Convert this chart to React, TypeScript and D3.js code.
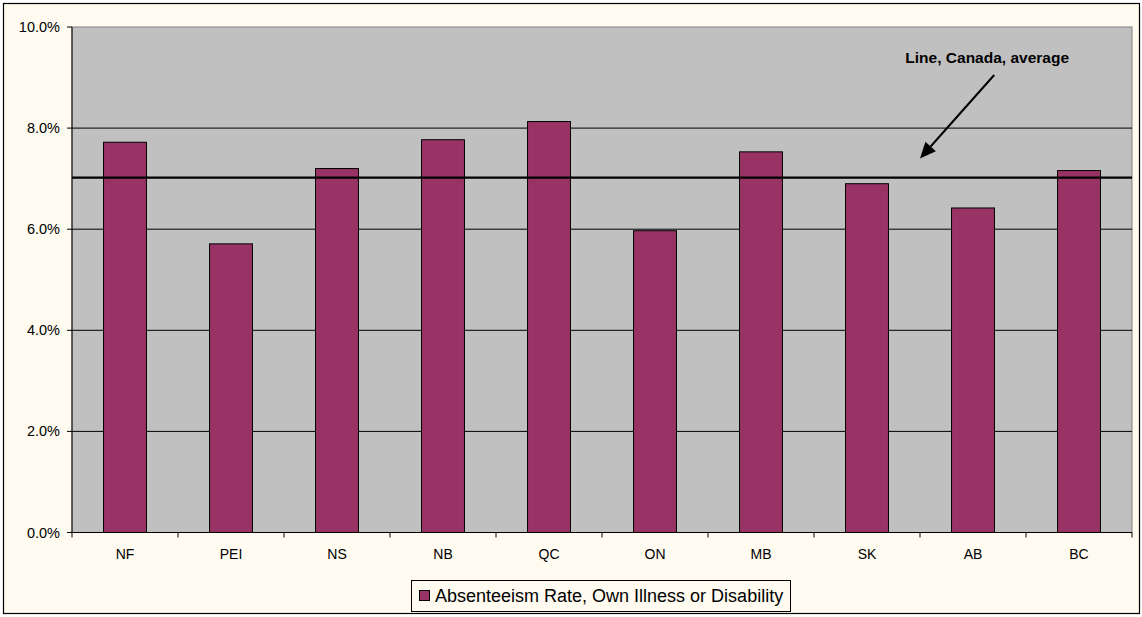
import React from "react";
import * as d3 from "d3";

const categories = ["NF", "PEI", "NS", "NB", "QC", "ON", "MB", "SK", "AB", "BC"];
const rates = [7.72, 5.71, 7.2, 7.77, 8.13, 5.97, 7.53, 6.9, 6.42, 7.16];
const canadaAverage = 7.02;
const yTicks = [0, 2, 4, 6, 8, 10];
const seriesName = "Absenteeism Rate, Own Illness or Disability";
const annotationText = "Line, Canada, average";

const W = 1142;
const H = 617;
const plot = { left: 72, right: 1132, top: 27, bottom: 532.5 };
const font = "Liberation Sans, Arial, sans-serif";

export default function App() {
  const x = d3
    .scaleBand<string>()
    .domain(categories)
    .range([plot.left, plot.right])
    .paddingInner(0.595)
    .paddingOuter(0.2975);
  const y = d3.scaleLinear().domain([0, 10]).range([plot.bottom, plot.top]);
  const step = x.step();

  const arrowStart: [number, number] = [plot.left + 8.7 * step, y(9.05)];
  const arrowEnd: [number, number] = [plot.left + 8 * step, y(7.4)];
  const ang = Math.atan2(arrowEnd[1] - arrowStart[1], arrowEnd[0] - arrowStart[0]);
  const headLen = 16;
  const headW = 7;
  const bx = arrowEnd[0] - headLen * Math.cos(ang);
  const by = arrowEnd[1] - headLen * Math.sin(ang);
  const px = -Math.sin(ang) * headW;
  const py = Math.cos(ang) * headW;

  return (
    <svg
      width={W}
      height={H}
      style={{ position: "fixed", left: 0, top: 0, display: "block" }}
      fontFamily={font}
    >
      <rect x={3.5} y={3.5} width={1136} height={610} fill="#fffbf0" stroke="#000" strokeWidth={1.2} />
      <rect x={plot.left} y={plot.top} width={plot.right - plot.left} height={plot.bottom - plot.top} fill="#c0c0c0" stroke="#808080" strokeWidth={1} />
      {yTicks.map((t) => (
        <g key={t}>
          {t > 0 && t < 10 && (
            <line x1={plot.left} x2={plot.right} y1={y(t)} y2={y(t)} stroke="#000" strokeWidth={1} />
          )}
          <line x1={plot.left - 5} x2={plot.left} y1={y(t)} y2={y(t)} stroke="#000" />
          <text x={plot.left - 12} y={y(t)} dy="0.35em" textAnchor="end" fontSize={14.5} fill="#000">
            {t.toFixed(1)}%
          </text>
        </g>
      ))}
      {rates.map((v, i) => (
        <rect
          key={categories[i]}
          x={x(categories[i])!}
          y={y(v)}
          width={x.bandwidth()}
          height={y(0) - y(v)}
          fill="#993366"
          stroke="#000"
          strokeWidth={1}
        />
      ))}
      <line x1={plot.left} x2={plot.right} y1={y(canadaAverage)} y2={y(canadaAverage)} stroke="#000" strokeWidth={2.2} />
      <line x1={plot.left} x2={plot.left} y1={plot.top} y2={plot.bottom} stroke="#000" strokeWidth={1} />
      <line x1={plot.left} x2={plot.right} y1={plot.bottom} y2={plot.bottom} stroke="#000" strokeWidth={1} />
      {d3.range(categories.length + 1).map((i) => (
        <line key={i} x1={plot.left + i * step} x2={plot.left + i * step} y1={plot.bottom} y2={plot.bottom + 5} stroke="#000" />
      ))}
      {categories.map((c) => (
        <text key={c} x={x(c)! + x.bandwidth() / 2} y={plot.bottom + 26} textAnchor="middle" fontSize={14} fill="#000">
          {c}
        </text>
      ))}
      <text x={arrowStart[0] - 7} y={63} textAnchor="middle" fontSize={15.5} fontWeight="bold" fill="#000">
        {annotationText}
      </text>
      <line x1={arrowStart[0]} y1={arrowStart[1]} x2={bx} y2={by} stroke="#000" strokeWidth={2} />
      <polygon
        points={`${arrowEnd[0]},${arrowEnd[1]} ${bx + px},${by + py} ${bx - px},${by - py}`}
        fill="#000"
      />
      <rect x={411.5} y={580.5} width={379} height={31} fill="#fffbf0" stroke="#000" strokeWidth={1} />
      <rect x={419.5} y={590.5} width={10} height={10} fill="#993366" stroke="#000" strokeWidth={1} />
      <text x={435} y={596} dy="0.35em" fontSize={18} fill="#000">
        {seriesName}
      </text>
    </svg>
  );
}
